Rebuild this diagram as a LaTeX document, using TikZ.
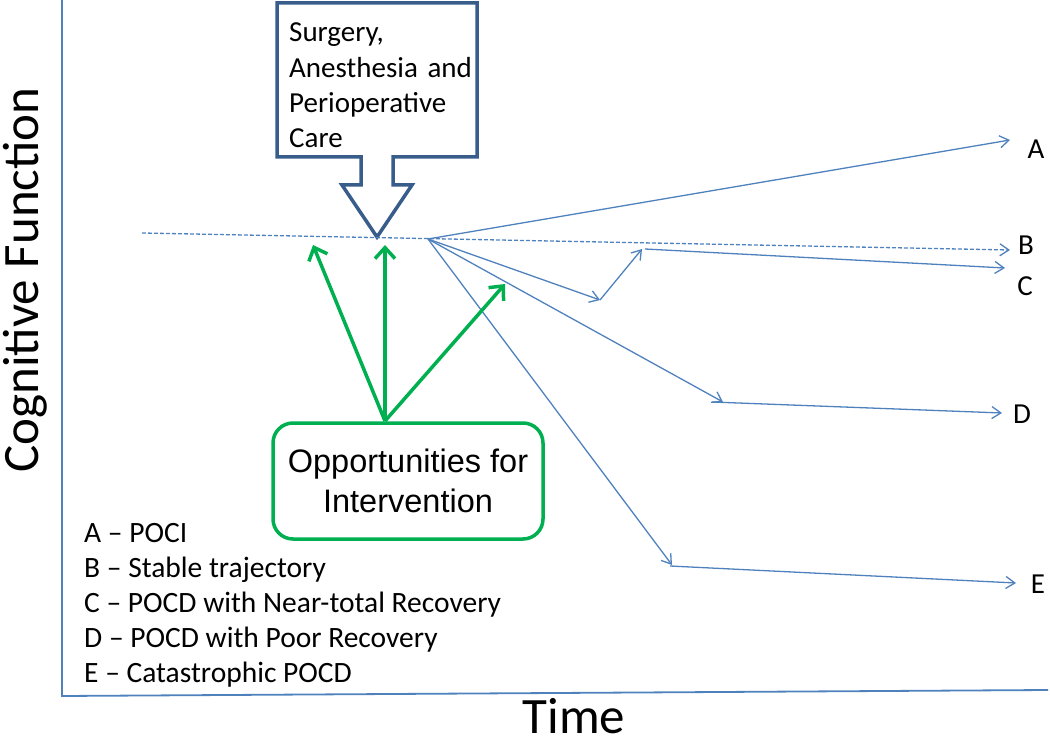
\documentclass[tikz,border=0pt]{standalone}
\usepackage{fontspec}
\setmainfont{Carlito}
\newfontfamily\arialf{Liberation Sans}
\usetikzlibrary{arrows.meta}
\definecolor{lineblue}{HTML}{4F81BD}
\definecolor{boxblue}{HTML}{385D8A}
\definecolor{oppgreen}{HTML}{00B050}
\begin{document}
\begin{tikzpicture}[x=1pt,y=-1pt,
  traj/.style={draw=lineblue, line width=1.3pt, -{Straight Barb[length=9pt,width=12pt]}},
  trajdash/.style={traj, dash pattern=on 4pt off 2pt},
  opparrow/.style={draw=oppgreen, line width=3.5pt, -{Straight Barb[length=11pt,width=20pt]}},
  axisline/.style={draw=lineblue, line width=1.8pt},
  legend/.style={anchor=base west, inner sep=0pt, font=\fontsize{29.5}{35}\selectfont},
  endlab/.style={inner sep=0pt, font=\fontsize{29}{34}\selectfont},
  bigtitle/.style={inner sep=0pt, font=\fontsize{51}{60}\selectfont}
]
\useasboundingbox (0,0) rectangle (1050,743);

% axes
\coordinate (ytop) at (62,0);
\coordinate (O) at (62,696);
\coordinate (xend) at (1048,690);
\draw[axisline] (ytop) -- (O) -- (xend);
\node[bigtitle, rotate=90, anchor=base] (ylab) at (38,280) {Cognitive Function};
\node[bigtitle, anchor=base] (xlab) at (574,733) {Time};

% surgery block arrow
\draw[boxblue, line width=3.5pt, line join=miter]
  (277,3) -- (477,3) -- (477,157) -- (393,157) -- (393,185) -- (412,185)
  -- (377,237) -- (342,185) -- (361,185) -- (361,157) -- (277,157) -- cycle;
\node[anchor=base west, inner sep=0pt, text width=185pt, align=left,
      font=\fontsize{29}{35.3}\selectfont] (surg) at (289,42)
  {Surgery,\\Anesthesia and\\Perioperative\\Care};

% trajectories
\coordinate (dstart) at (142,233);
\coordinate (src) at (428,239);
\coordinate (Btip) at (1010,250);
\coordinate (Atip) at (1010,140);
\coordinate (C1) at (600,300);
\coordinate (C2) at (642,249);
\coordinate (C2s) at (645,249);
\coordinate (Ctip) at (1005,268);
\coordinate (D1) at (723,402);
\coordinate (D1s) at (712,402);
\coordinate (Dtip) at (1002,413);
\coordinate (E1) at (672,565);
\coordinate (E1s) at (670,566);
\coordinate (Etip) at (1016,583);

\draw[trajdash] (dstart) -- (Btip);
\draw[traj] (src) -- (Atip);
\draw[traj] (src) -- (C1);
\draw[traj] (C1) -- (C2);
\draw[traj] (C2s) -- (Ctip);
\draw[traj] (src) -- (D1);
\draw[traj] (D1s) -- (Dtip);
\draw[traj] (src) -- (E1);
\draw[traj] (E1s) -- (Etip);

\node[endlab] (labA) at (1036,149) {A};
\node[endlab] (labB) at (1026,245) {B};
\node[endlab] (labC) at (1025,286) {C};
\node[endlab] (labD) at (1022,414) {D};
\node[endlab] (labE) at (1038,584) {E};

% opportunities
\node[draw=oppgreen, line width=3.5pt, rounded corners=20pt, minimum width=270pt,
      minimum height=116pt, align=center, inner sep=0pt,
      font=\arialf\fontsize{32.5}{40}\selectfont] (opp) at (408,481)
  {Opportunities for\\Intervention};
\coordinate (g0) at (385,421);
\coordinate (gl) at (313,245);
\coordinate (gm) at (385,245);
\coordinate (gr) at (505,284);
\draw[opparrow] (g0) -- (gl);
\draw[opparrow] (g0) -- (gm);
\draw[opparrow] (g0) -- (gr);

% legend
\node[legend] (legA) at (84,542) {A \textendash{} POCI};
\node[legend] (legB) at (84,577) {B \textendash{} Stable trajectory};
\node[legend] (legC) at (84,612) {C \textendash{} POCD with Near-total Recovery};
\node[legend] (legD) at (84,647) {D \textendash{} POCD with Poor Recovery};
\node[legend] (legE) at (84,682) {E \textendash{} Catastrophic POCD};
\end{tikzpicture}
\end{document}
